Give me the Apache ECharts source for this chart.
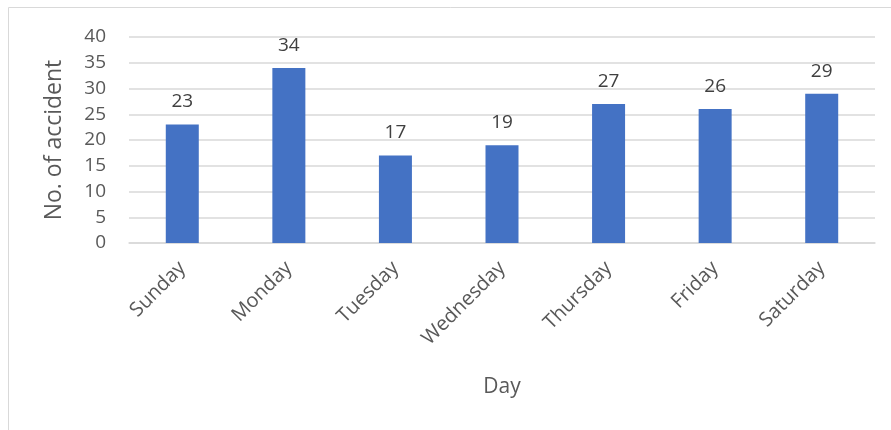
<!DOCTYPE html>
<html lang="en">
<head>
    <meta charset="UTF-8">
    <title>Accidents by day</title>
    <script src="https://cdn.jsdelivr.net/npm/echarts@6/dist/echarts.min.js"></script>
    <style>
        html, body { margin: 0; padding: 0; background: #fff; }
    </style>
</head>
<body>
    <div id="chart" style="width: 891px; height: 430px;"></div>
    <script>
        const days = ['Sunday', 'Monday', 'Tuesday', 'Wednesday', 'Thursday', 'Friday', 'Saturday'];
        const accidents = [23, 34, 17, 19, 27, 26, 29];
        const yTicks = { min: 0, max: 40, interval: 5 };

        const fontFamily = '"Open Sans", "Noto Sans", sans-serif';
        const myChart = echarts.init(document.getElementById('chart'));

        const option = {
            animation: false,
            textStyle: { fontFamily: fontFamily },
            graphic: [{
                type: 'rect',
                shape: { x: 8.5, y: 7.5, width: 900, height: 500 },
                style: { fill: 'none', stroke: '#d9d9d9', lineWidth: 1 },
                silent: true
            }],
            grid: { left: 129, right: 16, top: 37, bottom: 187 },
            xAxis: {
                type: 'category',
                data: days,
                name: 'Day',
                nameLocation: 'middle',
                nameGap: 134,
                nameTextStyle: { fontSize: 21, color: '#595959', fontFamily: fontFamily },
                axisLine: { lineStyle: { color: '#d9d9d9', width: 1.5 } },
                axisTick: { show: false },
                axisLabel: {
                    rotate: 45,
                    fontSize: 20,
                    color: '#595959',
                    margin: 22,
                    fontFamily: fontFamily
                }
            },
            yAxis: {
                type: 'value',
                min: yTicks.min,
                max: yTicks.max,
                interval: yTicks.interval,
                name: 'No. of accident',
                nameLocation: 'middle',
                nameGap: 63,
                nameTextStyle: { fontSize: 23, color: '#595959', fontFamily: fontFamily },
                axisLine: { show: false },
                axisTick: { show: false },
                axisLabel: { fontSize: 19, color: '#595959', margin: 23, fontFamily: fontFamily },
                splitLine: { lineStyle: { color: '#d9d9d9', width: 1.5 } }
            },
            series: [{
                type: 'bar',
                data: accidents,
                barWidth: 33,
                itemStyle: { color: '#4472c4' },
                label: {
                    show: true,
                    position: 'top',
                    distance: 13,
                    fontSize: 19,
                    color: '#404040',
                    fontFamily: fontFamily
                }
            }]
        };

        myChart.setOption(option);
    </script>
</body>
</html>
